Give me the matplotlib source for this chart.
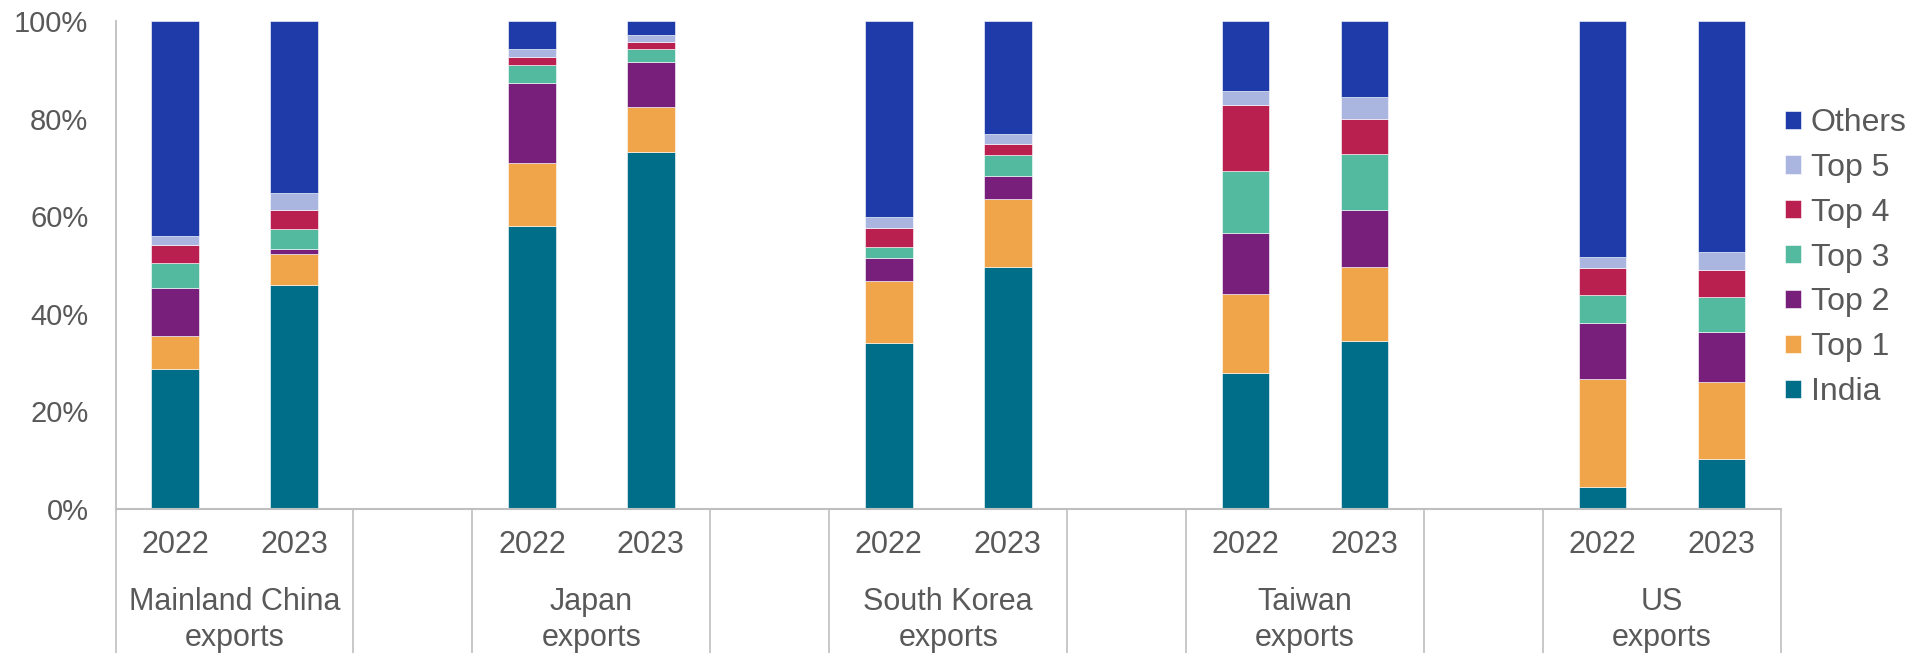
import matplotlib
matplotlib.use("Agg")
import matplotlib.pyplot as plt
import numpy as np

plt.rcParams['font.family'] = ['Liberation Sans', 'DejaVu Sans']

groups = ["Mainland China\nexports", "Japan\nexports", "South Korea\nexports",
          "Taiwan\nexports", "US\nexports"]
years = ["2022", "2023"]
series_names = ["India", "Top 1", "Top 2", "Top 3", "Top 4", "Top 5", "Others"]
colors = ["#006E89", "#F0A54B", "#771F7B", "#53BAA0", "#B91F4F", "#AAB6E0", "#1F3BA9"]

# order of bars: MC22, MC23, JP22, JP23, SK22, SK23, TW22, TW23, US22, US23
india  = [28.7, 45.9, 58.0, 73.2, 34.1, 49.5, 27.8, 34.5, 4.6, 10.3]
top1   = [6.8, 6.3, 12.9, 9.2, 12.6, 14.0, 16.2, 15.1, 22.0, 15.8]
top2   = [9.7, 1.0, 16.3, 9.1, 4.8, 4.7, 12.6, 11.7, 11.5, 10.2]
top3   = [5.3, 4.2, 3.7, 2.8, 2.2, 4.4, 12.6, 11.5, 5.7, 7.2]
top4   = [3.6, 3.8, 1.8, 1.4, 3.8, 2.1, 13.6, 7.1, 5.6, 5.5]
top5   = [1.9, 3.5, 1.6, 1.5, 2.4, 2.1, 2.9, 4.6, 2.3, 3.7]
others = [44.0, 35.3, 5.7, 2.8, 40.1, 23.2, 14.3, 15.5, 48.3, 47.3]

series = [india, top1, top2, top3, top4, top5, others]

W, H = 1927, 653
fig = plt.figure(figsize=(W / 100, H / 100), dpi=100)
left, right = 115.5 / W, 1781 / W
bottom, top = 1 - 509 / H, 1 - 21 / H
ax = fig.add_axes([left, bottom, right - left, top - bottom])

# positions: 2 bars per group, one empty slot between groups
pos = []
for g in range(len(groups)):
    for y in range(len(years)):
        pos.append(g * 3 + y)
pos = np.array(pos, dtype=float)

base = np.zeros(len(pos))
handles = []
for name, vals, c in zip(series_names, series, colors):
    vals = np.array(vals)
    h = ax.bar(pos, vals, 0.4, bottom=base, color=c, label=name,
               edgecolor="#FFFFFF", linewidth=0.4)
    handles.append(h)
    base += vals

ax.set_xlim(-0.5, pos.max() + 0.5)
ax.set_ylim(0, 100)
ax.set_yticks(np.arange(0, 101, 20))
ax.set_yticklabels([f"{v}%" for v in range(0, 101, 20)])
ax.tick_params(axis='y', length=0, pad=19.5, labelsize=21, labelcolor="#595959")
ax.set_xticks([])

for s in ["top", "right"]:
    ax.spines[s].set_visible(False)
ax.spines["left"].set_color("#BFBFBF")
ax.spines["bottom"].set_color("#BFBFBF")
ax.spines["left"].set_linewidth(1.3)
ax.spines["bottom"].set_linewidth(1.5)

# category axis labels
trans = ax.get_xaxis_transform()
fig_bottom_ax = -bottom / (top - bottom)
ah = 509 - 21
for p, yr in zip(pos, years * len(groups)):
    ax.text(p, -(545 - 509) / ah, yr, transform=trans, ha="center", va="center",
            fontsize=22, color="#595959")
for g, name in enumerate(groups):
    cx = g * 3 + 0.5
    ax.text(cx, -(620 - 509) / ah, name, transform=trans, ha="center", va="center",
            fontsize=22, color="#595959", linespacing=1.22)

# separator lines
seps = []
for g in range(len(groups)):
    seps.append(g * 3 - 0.5)
    seps.append(g * 3 + 1.5)
for x in seps:
    ax.plot([x, x], [0, fig_bottom_ax], transform=trans, color="#BFBFBF",
            linewidth=1.2, clip_on=False)

leg = ax.legend(handles[::-1], series_names[::-1], loc="upper left",
                bbox_to_anchor=(1785 / W, 1 - 108 / H), bbox_transform=fig.transFigure,
                frameon=False, fontsize=23, handlelength=0.5, handleheight=0.5,
                handletextpad=0.3, labelspacing=0.465, borderaxespad=0, borderpad=0)
for t in leg.get_texts():
    t.set_color("#595959")

fig.savefig("out.png", dpi=100)
